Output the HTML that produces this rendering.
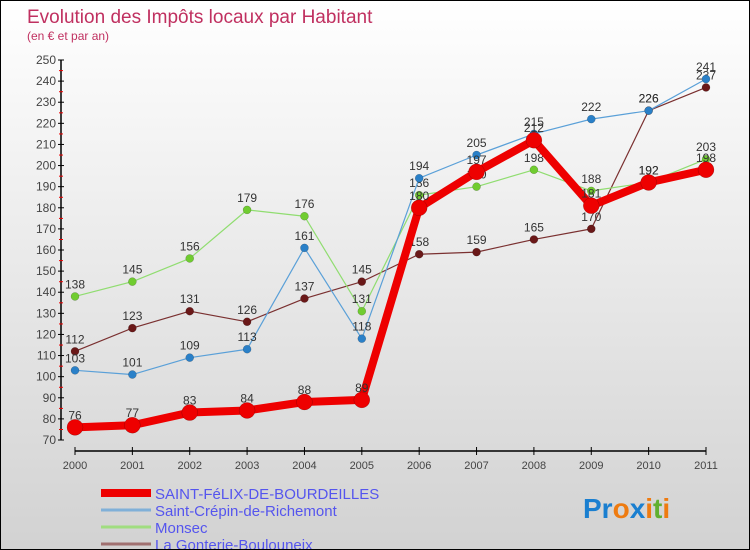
<!DOCTYPE html>
<html><head><meta charset="utf-8"><style>
body{margin:0}
#c{width:748px;height:548px;border:1px solid #000;background:linear-gradient(#fff,#d2d2d2);position:relative;font-family:"Liberation Sans",sans-serif;overflow:hidden}
</style></head><body>
<div id="c">
<svg id="s" width="748" height="548">
<text x="26" y="22" font-size="19" fill="#c03060">Evolution des Impôts locaux par Habitant</text>
<text x="26" y="39" font-size="12" fill="#c03060">(en € et par an)</text>
<g id="axes"></g><g id="series"></g><g id="legend"></g>
<text x="582" y="517" font-size="28" font-weight="bold"><tspan fill="#1a7fd0">Pr</tspan><tspan fill="#ee7b10">o</tspan><tspan fill="#1a7fd0">x</tspan><tspan fill="#ee7b10">i</tspan><tspan fill="#60b030">t</tspan><tspan fill="#ee7b10">i</tspan></text>
</svg></div>
<script>
const years=[2000,2001,2002,2003,2004,2005,2006,2007,2008,2009,2010,2011];
const yTicks=[70,80,90,100,110,120,130,140,150,160,170,180,190,200,210,220,230,240,250];
const felix=[76,77,83,84,88,89,180,197,212,181,192,198];
const crepin=[103,101,109,113,161,118,194,205,215,222,226,241];
const monsec=[138,145,156,179,176,131,186,190,198,188,192,203];
const gonterie=[112,123,131,126,137,145,158,159,165,170,226,237];
const NS="http://www.w3.org/2000/svg";
const X=i=>74+i*(631/11);
const Y=v=>439-(v-70)*(380/180);
function mk(t,a,p){const e=document.createElementNS(NS,t);for(const k in a)e.setAttribute(k,a[k]);p.appendChild(e);return e;}
const ax=document.getElementById('axes');
let l=mk('line',{x1:60,y1:Y(250),x2:60,y2:Y(70),stroke:'#000','stroke-width':1.5},ax);


l=mk('line',{x1:74,y1:450,x2:705,y2:450,stroke:'#000','stroke-width':1.5},ax);


yTicks.forEach(v=>{const y=Y(v);mk('line',{x1:57,y1:y,x2:63,y2:y,stroke:'#000'},ax);
 if(v<250)mk('line',{x1:58,y1:y-10.5,x2:62,y2:y-10.5,stroke:'#e00'},ax);
 const t=mk('text',{x:55,y:y+4,'font-size':12,fill:'#444','text-anchor':'end'},ax);t.textContent=v;
 
 });
years.forEach((yr,i)=>{const x=X(i);mk('line',{x1:x,y1:446,x2:x,y2:454,stroke:'#000'},ax);
 const t=mk('text',{x:x,y:468,'font-size':11,fill:'#444','text-anchor':'middle'},ax);t.textContent=yr;
 
 });
const sg=document.getElementById('series');
function draw(d,color,dot,w,r,name){const g=mk('g',{},sg);
 
 
 mk('polyline',{points:d.map((v,i)=>X(i)+','+Y(v)).join(' '),fill:'none',stroke:color,'stroke-width':w,'stroke-linejoin':'round'},g);
 d.forEach((v,i)=>{const c=mk('circle',{cx:X(i),cy:Y(v),r:r,fill:dot,stroke:'rgba(0,0,0,0.3)','stroke-width':0.5},g);
  
  
  const t=mk('text',{x:X(i),y:Y(v)-8,'font-size':12,fill:'#333','text-anchor':'middle'},g);t.textContent=v;
  
  });}
draw(gonterie,'#7a3030','#6a1818',1.2,4,'series-la-gonterie');
draw(monsec,'#90dd70','#70cc30',1.2,4,'series-monsec');
draw(crepin,'#5aa0d8','#2a80c8',1.2,4,'series-saint-crepin');
draw(felix,'#ee0000','#ee0000',8,8,'series-saint-felix');
const lg=document.getElementById('legend');
const names=['SAINT-FéLIX-DE-BOURDEILLES','Saint-Crépin-de-Richemont','Monsec','La Gonterie-Boulouneix'];
const cols=['#ee0000','#80b0d8','#a0dd80','#a07070'];const ws=[8,3,3,3];
names.forEach((n,i)=>{const y=492+i*17;
 const ln=mk('line',{x1:100,y1:y,x2:150,y2:y,stroke:cols[i],'stroke-width':ws[i]},lg);
 
 
 const t=mk('text',{x:154,y:y+6,'font-size':15,fill:'#5555ee'},lg);t.textContent=n;
 
 });
</script>
</body></html>
